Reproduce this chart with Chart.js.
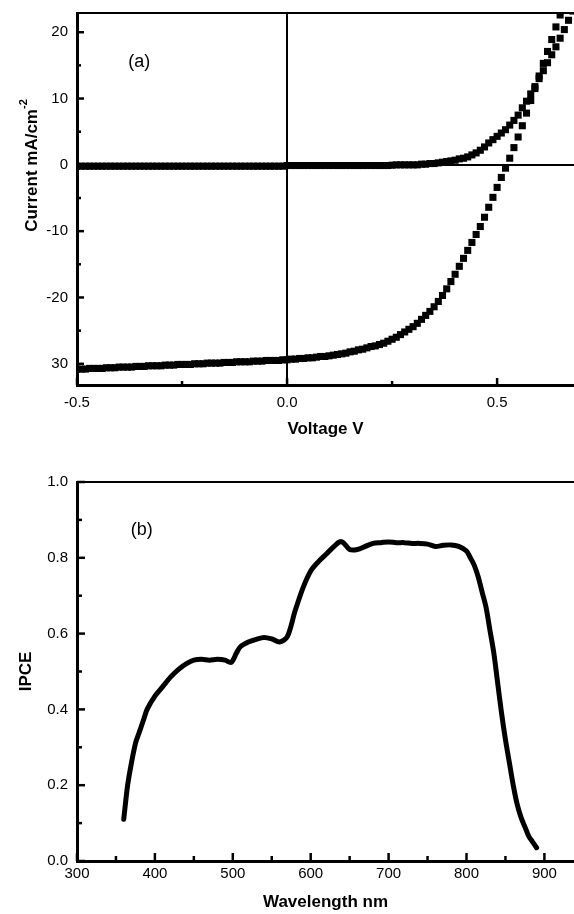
<!DOCTYPE html>
<html>
<head>
<meta charset="utf-8">
<script src="https://cdn.jsdelivr.net/npm/chart.js@4.4.1/dist/chart.umd.min.js"></script>
<style>
  body { margin: 0; background: #fff; }
  canvas { display: block; }
</style>
</head>
<body>
<canvas id="ivChart" width="574" height="450"></canvas>
<canvas id="ipceChart" width="574" height="464"></canvas>
<script>
// -----------------------------
// (a) J-V DATA
// -----------------------------
const voltage = [
  -0.50, -0.49, -0.48, -0.47, -0.46, -0.45, -0.44, -0.43, -0.42, -0.41,
  -0.40, -0.39, -0.38, -0.37, -0.36, -0.35, -0.34, -0.33, -0.32, -0.31,
  -0.30, -0.29, -0.28, -0.27, -0.26, -0.25, -0.24, -0.23, -0.22, -0.21,
  -0.20, -0.19, -0.18, -0.17, -0.16, -0.15, -0.14, -0.13, -0.12, -0.11,
  -0.10, -0.09, -0.08, -0.07, -0.06, -0.05, -0.04, -0.03, -0.02, -0.01,
  0.00, 0.01, 0.02, 0.03, 0.04, 0.05, 0.06, 0.07, 0.08, 0.09,
  0.10, 0.11, 0.12, 0.13, 0.14, 0.15, 0.16, 0.17, 0.18, 0.19,
  0.20, 0.21, 0.22, 0.23, 0.24, 0.25, 0.26, 0.27, 0.28, 0.29,
  0.30, 0.31, 0.32, 0.33, 0.34, 0.35, 0.36, 0.37, 0.38, 0.39,
  0.40, 0.41, 0.42, 0.43, 0.44, 0.45, 0.46, 0.47, 0.48, 0.49,
  0.50, 0.51, 0.52, 0.53, 0.54, 0.55, 0.56, 0.57, 0.58, 0.59,
  0.60, 0.61, 0.62, 0.63, 0.64, 0.65, 0.66, 0.67, 0.68
];
// dark current (mA/cm2)
const darkCurrent = [
  -0.2, -0.2, -0.2, -0.2, -0.2, -0.2, -0.2, -0.2, -0.2, -0.2,
  -0.2, -0.2, -0.2, -0.2, -0.2, -0.2, -0.2, -0.2, -0.2, -0.2,
  -0.2, -0.2, -0.2, -0.2, -0.2, -0.2, -0.2, -0.2, -0.2, -0.2,
  -0.2, -0.2, -0.2, -0.2, -0.2, -0.2, -0.2, -0.2, -0.2, -0.2,
  -0.2, -0.2, -0.2, -0.2, -0.2, -0.2, -0.2, -0.2, -0.2, -0.2,
  -0.1, -0.1, -0.1, -0.1, -0.1, -0.1, -0.1, -0.1, -0.1, -0.1,
  -0.1, -0.1, -0.1, -0.1, -0.1, -0.1, -0.1, -0.1, -0.1, -0.1,
  -0.1, -0.1, -0.1, -0.1, -0.1, -0.05, 0.0, 0.0, 0.0, 0.0,
  0.0, 0.0, 0.1, 0.1, 0.2, 0.2, 0.3, 0.4, 0.5, 0.6,
  0.7, 0.9, 1.0, 1.2, 1.5, 1.8, 2.2, 2.7, 3.3, 3.8,
  4.3, 4.8, 5.3, 6.0, 6.7, 7.5, 8.6, 9.6, 10.7, 11.8,
  13.0, 14.2, 15.4, 16.6, 17.8, 19.1, 20.4, 21.8, 23.2
];
// illuminated current (mA/cm2)
const lightCurrent = [
  -30.8, -30.8, -30.8, -30.7, -30.7, -30.7, -30.7, -30.6, -30.6, -30.6,
  -30.5, -30.5, -30.5, -30.5, -30.4, -30.4, -30.4, -30.3, -30.3, -30.3,
  -30.3, -30.2, -30.2, -30.2, -30.1, -30.1, -30.1, -30.1, -30.0, -30.0,
  -30.0, -29.9, -29.9, -29.9, -29.9, -29.8, -29.8, -29.8, -29.7, -29.7,
  -29.7, -29.7, -29.6, -29.6, -29.6, -29.5, -29.5, -29.5, -29.5, -29.4,
  -29.4, -29.3, -29.3, -29.2, -29.2, -29.1, -29.1, -29.0, -28.9, -28.9,
  -28.8, -28.7, -28.6, -28.5, -28.4, -28.2, -28.1, -27.9, -27.8, -27.6,
  -27.4, -27.3, -27.1, -26.9, -26.6, -26.3, -26.0, -25.6, -25.2, -24.8,
  -24.4, -23.9, -23.3, -22.7, -22.1, -21.4, -20.6, -19.7, -18.7, -17.6,
  -16.5, -15.3, -14.1, -12.9, -11.7, -10.5, -9.3, -7.9, -6.4, -4.9,
  -3.4, -1.9, -0.5, 1.0, 2.6, 4.2, 5.9, 7.8, 9.7, 11.5,
  13.4, 15.3, 17.1, 18.9, 20.8, 22.6, 24.4, 26.2, 28.0
];
const voltageTicks = [-0.5, 0, 0.5];
const voltageTickLabels = ["-0.5", "0.0", "0.5"];
const currentTicks = [20, 10, 0, -10, -20, -30];
const currentTickLabels = ["20", "10", "0", "-10", "-20", "30"];

// -----------------------------
// (b) IPCE DATA
// -----------------------------
const wavelength = [
  360, 365, 370, 375, 380, 385, 390, 400, 410, 420,
  430, 440, 450, 460, 470, 480, 490, 498, 505, 510,
  520, 530, 540, 550, 560, 570, 580, 590, 600, 610,
  620, 630, 637, 642, 650, 660, 670, 680, 690, 700,
  710, 720, 730, 740, 750, 760, 770, 780, 790, 800,
  805, 810, 815, 820, 825, 830, 835, 840, 845, 850,
  855, 860, 865, 870, 875, 880, 885, 890
];
const ipce = [
  0.11, 0.20, 0.26, 0.31, 0.34, 0.37, 0.40, 0.435, 0.46, 0.485,
  0.505, 0.52, 0.53, 0.532, 0.53, 0.532, 0.53, 0.524, 0.55, 0.566,
  0.578, 0.585, 0.59, 0.586, 0.578, 0.592, 0.66, 0.72, 0.765, 0.79,
  0.81, 0.83, 0.842, 0.84, 0.822, 0.822, 0.83, 0.838, 0.84, 0.842,
  0.84, 0.84, 0.838, 0.838, 0.836, 0.83, 0.833, 0.834, 0.83, 0.818,
  0.80, 0.78, 0.75, 0.71, 0.67, 0.61, 0.55, 0.47, 0.39, 0.32,
  0.26, 0.20, 0.15, 0.115, 0.09, 0.065, 0.05, 0.035
];
const wavelengthTicks = [300, 400, 500, 600, 700, 800, 900];
const wavelengthTickLabels = ["300", "400", "500", "600", "700", "800", "900"];
const ipceTicks = [0, 0.2, 0.4, 0.6, 0.8, 1.0];
const ipceTickLabels = ["0.0", "0.2", "0.4", "0.6", "0.8", "1.0"];

// -----------------------------
// HELPERS
// -----------------------------
const FONT = '"Liberation Sans", Arial, Helvetica, sans-serif';

function pickLabel(values, labels) {
  return v => {
    const i = values.findIndex(t => Math.abs(t - v) < 1e-6);
    return i < 0 ? "" : labels[i];
  };
}
function isMult(v, step) {
  const r = v / step;
  return Math.abs(r - Math.round(r)) < 1e-6;
}

// frame on top, inward ticks, panel label, custom y title
const framePlugin = {
  id: "frame",
  afterDatasetsDraw(chart, args, o) {
    const { ctx, chartArea: a, scales: { x, y } } = chart;
    ctx.save();
    ctx.strokeStyle = "#000";
    ctx.lineWidth = 2;
    ctx.beginPath();
    ctx.moveTo(a.left, a.top);
    ctx.lineTo(a.right, a.top);
    ctx.stroke();

    ctx.lineWidth = 2.5;
    x.ticks.forEach(t => {
      if (!isMult(t.value, o.xMinor)) return;
      const len = isMult(t.value, o.xMajor) ? o.majorLen : o.minorLen;
      const px = x.getPixelForValue(t.value);
      ctx.beginPath();
      ctx.moveTo(px, a.bottom);
      ctx.lineTo(px, a.bottom - len);
      ctx.stroke();
    });
    y.ticks.forEach(t => {
      if (!isMult(t.value, o.yMinor)) return;
      const len = isMult(t.value, o.yMajor) ? o.majorLen : o.minorLen;
      const py = y.getPixelForValue(t.value);
      ctx.beginPath();
      ctx.moveTo(a.left, py);
      ctx.lineTo(a.left + len, py);
      ctx.stroke();
    });

    ctx.fillStyle = "#000";
    ctx.font = "18px " + FONT;
    ctx.textAlign = "center";
    ctx.textBaseline = "middle";
    ctx.fillText(o.label, x.getPixelForValue(o.labelAt[0]), y.getPixelForValue(o.labelAt[1]));

    if (o.yTitle) {
      const tx = o.yTitle.x;
      const ty = a.top + (a.bottom - a.top) * o.yTitle.pos;
      ctx.translate(tx, ty);
      ctx.rotate(-Math.PI / 2);
      ctx.textAlign = "left";
      ctx.font = "bold 17px " + FONT;
      const wMain = ctx.measureText(o.yTitle.text).width;
      ctx.font = "bold 11px " + FONT;
      const wSup = ctx.measureText(o.yTitle.sup).width;
      const start = -(wMain + wSup) / 2;
      ctx.font = "bold 17px " + FONT;
      ctx.fillText(o.yTitle.text, start, 0);
      ctx.font = "bold 11px " + FONT;
      ctx.fillText(o.yTitle.sup, start + wMain, -8);
    }
    ctx.restore();
  }
};

// fixed-size axis boxes so the plot area lands where it does in the figure
function fixX(h) {
  return s => { s.height = h; s.paddingLeft = 0; s.paddingRight = 0; };
}
function fixY(w) {
  return s => { s.width = w; s.paddingTop = 0; s.paddingBottom = 0; };
}

// -----------------------------
// (a) J-V CHART
// -----------------------------
const IV_H = 450, IV_BOTTOM = 385;
const squares = {
  showLine: false,
  pointStyle: "rect",
  pointRadius: 5,
  pointBackgroundColor: "#000",
  pointBorderWidth: 0,
  clip: 0
};
const zeroLine = c => (c.tick && Math.abs(c.tick.value) < 1e-9 ? "#000" : "rgba(0,0,0,0)");

new Chart(document.getElementById("ivChart"), {
  type: "line",
  data: {
    datasets: [
      { label: "dark", data: voltage.map((v, i) => ({ x: v, y: darkCurrent[i] })), ...squares },
      { label: "light", data: voltage.map((v, i) => ({ x: v, y: lightCurrent[i] })), ...squares }
    ]
  },
  options: {
    responsive: false,
    animation: false,
    devicePixelRatio: 1,
    layout: { autoPadding: false, padding: { top: 13, left: 0, right: 0, bottom: 0 } },
    plugins: {
      legend: { display: false },
      tooltip: { enabled: false },
      frame: {
        xMinor: 0.25, xMajor: 0.5, yMinor: 5, yMajor: 10,
        majorLen: 7, minorLen: 4,
        label: "(a)", labelAt: [-0.352, 15.5],
        yTitle: { text: "Current mA/cm", sup: "-2", x: 32, pos: 0.41 }
      }
    },
    scales: {
      x: {
        type: "linear",
        min: -0.5,
        max: 0.683,
        afterFit: fixX(IV_H - IV_BOTTOM),
        border: { display: true, width: 3, color: "#000" },
        grid: { drawTicks: false, lineWidth: 2, color: zeroLine },
        ticks: {
          stepSize: 0.25,
          includeBounds: false,
          autoSkip: false,
          maxRotation: 0,
          padding: 9,
          color: "#000",
          font: { family: FONT, size: 15 },
          callback: pickLabel(voltageTicks, voltageTickLabels)
        },
        title: {
          display: true,
          text: "Voltage V",
          color: "#000",
          font: { family: FONT, size: 17, weight: "bold" },
          padding: { top: 0, bottom: 10 }
        }
      },
      y: {
        type: "linear",
        min: -33.2,
        max: 22.9,
        afterFit: fixY(77),
        border: { display: true, width: 3, color: "#000" },
        grid: { drawTicks: false, lineWidth: 2, color: zeroLine },
        ticks: {
          stepSize: 5,
          includeBounds: false,
          autoSkip: false,
          padding: 9,
          color: "#000",
          font: { family: FONT, size: 15 },
          callback: pickLabel(currentTicks, currentTickLabels)
        }
      }
    }
  },
  plugins: [framePlugin]
});

// -----------------------------
// (b) IPCE CHART
// -----------------------------
const IPCE_H = 464, IPCE_BOTTOM = 411;
new Chart(document.getElementById("ipceChart"), {
  type: "line",
  data: {
    datasets: [{
      label: "IPCE",
      data: wavelength.map((w, i) => ({ x: w, y: ipce[i] })),
      borderColor: "#000",
      borderWidth: 5,
      borderCapStyle: "round",
      borderJoinStyle: "round",
      pointRadius: 0,
      tension: 0.3,
      fill: false
    }]
  },
  options: {
    responsive: false,
    animation: false,
    devicePixelRatio: 1,
    layout: { autoPadding: false, padding: { top: 32, left: 0, right: 0, bottom: 0 } },
    plugins: {
      legend: { display: false },
      tooltip: { enabled: false },
      frame: {
        xMinor: 50, xMajor: 100, yMinor: 0.1, yMajor: 0.2,
        majorLen: 8, minorLen: 5,
        label: "(b)", labelAt: [383, 0.873]
      }
    },
    scales: {
      x: {
        type: "linear",
        min: 300,
        max: 938,
        afterFit: fixX(IPCE_H - IPCE_BOTTOM),
        border: { display: true, width: 3, color: "#000" },
        grid: { display: false, drawTicks: false },
        ticks: {
          stepSize: 50,
          includeBounds: false,
          autoSkip: false,
          maxRotation: 0,
          padding: 4,
          color: "#000",
          font: { family: FONT, size: 15 },
          callback: pickLabel(wavelengthTicks, wavelengthTickLabels)
        },
        title: {
          display: true,
          text: "Wavelength nm",
          color: "#000",
          font: { family: FONT, size: 17, weight: "bold" },
          padding: { top: 0, bottom: 1 }
        }
      },
      y: {
        type: "linear",
        min: 0,
        max: 1.0,
        afterFit: fixY(77),
        border: { display: true, width: 3, color: "#000" },
        grid: { display: false, drawTicks: false },
        ticks: {
          stepSize: 0.1,
          includeBounds: false,
          autoSkip: false,
          padding: 9,
          color: "#000",
          font: { family: FONT, size: 15 },
          callback: pickLabel(ipceTicks, ipceTickLabels)
        },
        title: {
          display: true,
          text: "IPCE",
          color: "#000",
          font: { family: FONT, size: 17, weight: "bold" },
          padding: { top: 16, bottom: 0 }
        }
      }
    }
  },
  plugins: [framePlugin]
});
</script>
</body>
</html>
